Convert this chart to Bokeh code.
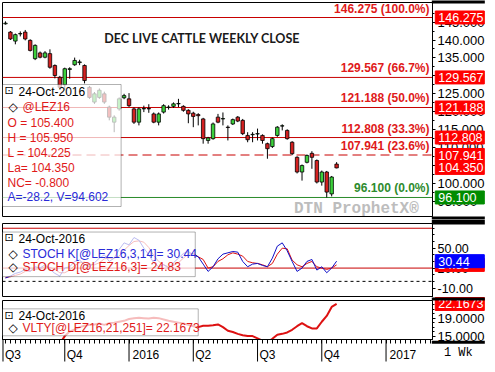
import numpy as np
from bokeh.plotting import figure
from bokeh.layouts import column
from bokeh.core.properties import value
from bokeh.models import (Range1d, FixedTicker, NumeralTickFormatter, Span, Label,
                          BoxAnnotation, ColumnDataSource)
from bokeh.embed import file_html
from bokeh.resources import INLINE

# ---------------- data ----------------
week_idx = list(range(68))
opens = [144.5, 142.2, 139.7, 141.7, 142.2, 139.9, 134.8, 136.4, 135.2, 136.2,
         132.9, 129.6, 127.5, 131.8, 133.1, 133.7, 132.9, 126.8, 122.7, 124.0,
         125.0, 121.3, 117.1, 120.8, 123.9, 123.6, 120.8, 117.1, 120.8, 120.9,
         119.4, 117.1, 119.9, 121.2, 121.5, 122.2, 121.5, 120.4, 119.6, 119.2,
         118.0, 112.0, 112.5, 118.5, 118.0, 115.7, 116.6, 118.5, 117.6, 113.4,
         113.6, 113.8, 113.4, 111.1, 110.3, 113.4, 116.0, 114.8, 111.5, 107.3,
         103.2, 105.9, 108.4, 106.4, 100.4, 103.2, 97.1, 105.4]
highs = [145.2, 142.5, 141.8, 142.4, 142.8, 140.2, 138.8, 136.8, 136.9, 137.4,
         133.2, 130.0, 132.3, 132.4, 135.1, 134.5, 133.2, 127.2, 125.5, 126.5,
         125.6, 121.7, 119.0, 124.0, 125.0, 125.2, 121.2, 121.2, 121.7, 122.1,
         119.8, 119.8, 122.1, 121.8, 122.6, 123.6, 121.8, 120.7, 120.0, 119.6,
         118.3, 113.0, 117.0, 119.4, 119.8, 116.2, 118.1, 118.8, 118.0, 114.3,
         114.3, 115.3, 113.7, 111.4, 112.8, 116.0, 116.5, 115.1, 111.8, 107.6,
         105.3, 108.1, 109.0, 106.7, 103.6, 103.5, 102.1, 105.95]
lows = [144.3, 140.0, 138.8, 141.0, 139.9, 136.8, 134.4, 134.9, 134.9, 132.0,
        129.3, 126.2, 126.0, 129.2, 132.8, 133.0, 127.9, 123.6, 122.2, 123.6,
        122.2, 117.6, 114.3, 120.3, 123.5, 121.3, 116.6, 116.2, 119.9, 119.7,
        116.8, 116.2, 119.5, 120.6, 121.1, 121.3, 120.0, 116.8, 115.7, 116.2,
        111.1, 111.1, 112.2, 116.8, 116.2, 112.0, 116.3, 117.1, 113.5, 111.5,
        111.5, 112.0, 111.1, 106.9, 109.9, 113.0, 114.8, 112.2, 107.9, 102.8,
        100.8, 105.6, 104.1, 100.0, 99.4, 96.1, 96.4, 104.225]
closes = [144.7, 140.3, 141.5, 141.8, 140.3, 137.1, 138.5, 135.2, 136.4, 132.4,
          130.1, 126.8, 132.0, 132.0, 134.3, 133.9, 128.7, 124.0, 125.0, 126.0,
          122.7, 118.5, 118.5, 123.6, 124.5, 121.7, 117.1, 120.8, 120.9, 120.8,
          117.1, 119.4, 121.7, 121.3, 122.2, 122.3, 120.4, 119.4, 118.7, 118.9,
          112.5, 112.7, 116.6, 117.1, 118.1, 115.6, 117.8, 117.4, 113.9, 112.2,
          113.7, 113.9, 112.0, 109.7, 112.5, 115.7, 116.1, 112.5, 108.3, 103.2,
          105.0, 107.8, 107.3, 100.4, 103.2, 97.6, 101.8, 104.35]
stoch_k = [5, 8, 12, 14, 18, 15, 22, 20, 25, 18, 12, 8, 20, 22, 30, 32, 25, 22, 28, 35,
           40, 30, 35, 48, 58, 55, 66, 62, 50, 40, 28, 22, 25, 20, 28, 35, 42, 45, 40, 37,
           26, 15, 22, 34, 41, 43, 45, 44, 30, 22, 26, 27, 24, 22, 35, 53, 58, 46, 30, 15,
           20, 30, 33, 17, 22, 13, 20, 30.44]
stoch_d = [6, 7, 9, 11, 15, 16, 18, 19, 22, 21, 18, 13, 13, 17, 24, 28, 29, 26, 25, 28,
           34, 35, 35, 38, 47, 54, 60, 61, 59, 51, 39, 30, 25, 22, 24, 28, 35, 41, 42, 37,
           33, 20, 22, 30, 34, 40, 43, 41, 38, 30, 28, 27, 25, 22, 27, 41, 50, 49, 32, 25,
           22, 27, 30, 22, 20, 18, 20, 24.83]
vlty = [np.nan] * 11 + [13.3, 15.0, 16.0, 16.5, 17.0, 17.3, 17.5, 17.6, 17.8, 17.5,
                        17.9, 18.0, 18.2, 18.4, 18.8, 19.0, 19.1, 19.0, 18.9, 19.1,
                        19.0, 18.7, 18.4, 18.2, 18.0, 17.8, 17.5, 17.2, 17.0, 17.3,
                        17.3, 17.4, 17.6, 17.0, 16.2, 15.9, 15.5, 15.2, 15.0, 15.0,
                        14.5, 14.0, 13.6, 14.4, 15.3, 15.5, 15.8, 16.4, 17.2, 17.9,
                        17.2, 16.7, 16.7, 18.2, 19.5, 21.5, 22.1673]

fib_levels = [146.275, 129.567, 121.188, 112.808, 107.941, 96.100]
fib_pcts = ["100.0%", "66.7%", "50.0%", "33.3%", "23.6%", "0.0%"]
last_price = 104.350
last_k = 30.44
last_d = 24.83
last_vlty = 22.1673
price_ticks = [95, 100, 105, 110, 115, 120, 125, 130, 135, 140, 145]
stoch_ticks = [-10, 20, 50]
vlty_ticks = [15, 19]
quarter_ticks = [-0.5, 12, 25, 38, 51, 64, 77]
quarter_labels = ["Q3", "Q4", "2016", "Q2", "Q3", "Q4", "2017"]
legend_date = "24-Oct-2016"
symbol = "@LEZ16"
ohlc_lines = ["O = 105.400", "H = 105.950", "L = 104.225", "La= 104.350", "NC= -0.800"]
av_line = "A=-28.2, V=94.602"
title_text = "DEC LIVE CATTLE WEEKLY CLOSE"
period_text = "1 Wk"

# ---------------- layout helpers (reference pixel -> data) ----------------
W = 487
BORDER_R = 52
X0, X1 = -0.6, 86.4
PXW = (W - 2 - BORDER_R) / (X1 - X0)      # screen px per week
BX_BOX = X1 + 27.5 / PXW                   # centre of value boxes
BX_COL = X1 + 26.0 / PXW                   # centre of right column
def gx(px): return (px - 5) / 5.0
def g1(py): return 146.275 - (py - 17) / 3.587
def g2(py): return (284 - py) / 0.7
def g3(py): return 19 - (py - 319) / 4.83

RED_LINE = "#c80000"
RED_TXT = "#e01a1a"
GREEN_TXT = "#2e8b2e"
FONT = "Liberation Sans"

xr = Range1d(X0, X1)

def make_fig(h, yr, top, bottom, xaxis, label_size="13px"):
    p = figure(width=W, height=h, x_range=xr, y_range=yr, toolbar_location=None,
               output_backend="svg", x_axis_location="below" if xaxis else None,
               y_axis_location="right", min_border_left=2, min_border_right=BORDER_R,
               min_border_top=top, min_border_bottom=bottom)
    p.grid.visible = False
    p.outline_line_color = "black"
    p.outline_line_width = 1
    p.background_fill_color = "white"
    p.border_fill_color = "white"
    ya = p.yaxis[0]
    ya.major_label_text_font = FONT
    ya.major_label_text_font_size = label_size
    ya.major_label_text_color = "black"
    ya.major_tick_in = 0
    ya.major_tick_out = 3
    ya.minor_tick_in = 0
    ya.minor_tick_out = 2
    ya.major_label_standoff = 2
    ya.axis_line_color = "black"
    return p

def ltext(p, text, px, y, color="black", font=FONT, size="12px", style="normal"):
    p.add_layout(Label(x=X0, y=y, x_offset=px - 2, text=text, text_color=color,
                       text_font=font, text_font_size=size, text_font_style=style,
                       text_baseline="middle", text_align="left"))

def value_box(p, v, text, color):
    p.rect(x=[BX_BOX], y=[v], width=49, height=13, width_units="screen",
           height_units="screen", fill_color=color, line_color=color, level="overlay")
    p.text(x=[BX_BOX], y=[v], text=[text], x_offset=-21.5, text_color="white",
           text_font=value(FONT), text_font_size=value("12.5px"),
           text_baseline="middle", text_align="left", level="overlay")

def col_bar(p, y, h):
    p.rect(x=[BX_COL], y=[y], width=53, height=h, width_units="screen",
           height_units="screen", fill_color="black", line_color=None, level="overlay")

# ---------------- main price panel ----------------
yr1 = Range1d(g1(216), g1(2))
p1 = make_fig(219, yr1, 2, 3, False)
p1.yaxis[0].ticker = FixedTicker(ticks=price_ticks,
                                 minor_ticks=[t + 2.5 for t in price_ticks])
p1.yaxis[0].formatter = NumeralTickFormatter(format="0.000")

for lvl, pct in zip(fib_levels, fib_pcts):
    col = "#2a8a2a" if pct == "0.0%" else RED_LINE
    dash = "9 5" if pct == "23.6%" else "solid"
    p1.add_layout(Span(location=lvl, dimension="width", line_color=col,
                       line_width=1, line_dash=dash, level="underlay"))

o = np.array(opens)
c = np.array(closes)
src = ColumnDataSource(dict(x=week_idx, high=highs, low=lows,
                            top=np.maximum(o, c), bottom=np.minimum(o, c),
                            color=["#3cd03c" if cc >= oo else "#d42020"
                                   for oo, cc in zip(opens, closes)]))
p1.segment(x0="x", y0="low", x1="x", y1="high", source=src, line_color="black", line_width=1)
p1.vbar(x="x", width=0.7, top="top", bottom="bottom", source=src,
        fill_color="color", line_color="black", line_width=0.8)

p1.add_layout(BoxAnnotation(left=X0, right=gx(122), top=g1(84), bottom=g1(206),
                            fill_color="white", fill_alpha=0.72,
                            line_color="black", line_width=1))
ltext(p1, "\u22a1", 4, g1(90), font="DejaVu Sans", size="11px")
ltext(p1, legend_date, 18, g1(91))
ltext(p1, "\u25c7", 8, g1(106), font="DejaVu Sans", size="12px")
ltext(p1, symbol, 22, g1(106), color=RED_TXT)
for i, t in enumerate(ohlc_lines):
    ltext(p1, t, 7, g1(122 + 15 * i), color=RED_TXT)
ltext(p1, av_line, 7, g1(196), color="#2a2ad8")

for lvl, pct in zip(fib_levels, fib_pcts):
    col = GREEN_TXT if pct == "0.0%" else RED_TXT
    p1.add_layout(Label(x=X1, y=lvl, x_offset=-3, y_offset=2, text=f"{lvl:.3f} ({pct})",
                        text_align="right", text_baseline="bottom", text_font=FONT,
                        text_font_style="bold", text_font_size="12px", text_color=col))

for lvl, pct in zip(fib_levels, fib_pcts):
    value_box(p1, lvl, f"{lvl:.3f}", "#008c00" if pct == "0.0%" else "#ff0000")
value_box(p1, last_price, f"{last_price:.3f}", "#ff0000")
col_bar(p1, g1(1.5), 3)
col_bar(p1, g1(217.5), 3)

p1.add_layout(Label(x=gx(204), y=g1(38), text=title_text, text_align="center",
                    text_baseline="middle", text_font="Lato", text_font_style="bold",
                    text_font_size="12.5px", text_color="#1a1a1a"))
p1.add_layout(Label(x=gx(360), y=g1(208), text="DTN ProphetX\u00ae", text_align="center",
                    text_baseline="middle", text_font="Liberation Mono",
                    text_font_style="bold", text_font_size="16px", text_color="#bdbdbd"))

# ---------------- stochastic panel ----------------
yr2 = Range1d(g2(301), g2(223))
p2 = make_fig(78, yr2, 4, 0, False, label_size="12.5px")
p2.yaxis[0].ticker = FixedTicker(ticks=stoch_ticks, minor_ticks=list(range(-10, 81, 10)))
p2.yaxis[0].formatter = NumeralTickFormatter(format="0.00")
for lv in (80, 20):
    p2.add_layout(Span(location=lv, dimension="width", line_color=RED_LINE,
                       line_width=1, level="underlay"))
p2.add_layout(Span(location=0, dimension="width", line_color="black",
                   line_width=1, line_dash="3 3", level="underlay"))
p2.line(week_idx, stoch_d, line_color="#dd1111", line_width=1)
p2.line(week_idx, stoch_k, line_color="#1010c8", line_width=1)
p2.add_layout(BoxAnnotation(left=X0, right=gx(197), top=g2(232), bottom=g2(279),
                            fill_color="white", fill_alpha=0.72,
                            line_color="black", line_width=1))
ltext(p2, "\u22a1", 4, g2(238), font="DejaVu Sans", size="11px")
ltext(p2, legend_date, 18, g2(239))
ltext(p2, "\u25c7", 8, g2(255), font="DejaVu Sans", size="12px")
ltext(p2, f"STOCH K[{symbol},3,14]= {last_k:.2f}", 22, g2(255), color="#2a2ad8")
ltext(p2, "\u25c7", 8, g2(269), font="DejaVu Sans", size="12px")
ltext(p2, f"STOCH D[{symbol},3]= {last_d:.2f}", 22, g2(269), color=RED_TXT)
value_box(p2, last_d, f"{last_d:.2f}", "#ff0000")
value_box(p2, last_k, f"{last_k:.2f}", "#0000ff")
col_bar(p2, g2(221.5), 5)

# ---------------- volatility panel ----------------
yr3 = Range1d(g3(342), g3(300))
p3 = make_fig(67, yr3, 3, 0, True)
p3.yaxis[0].ticker = FixedTicker(ticks=vlty_ticks, minor_ticks=list(range(14, 23)))
p3.yaxis[0].formatter = NumeralTickFormatter(format="0.0000")
p3.line(week_idx, np.array(vlty, dtype=float), line_color="#dd1111", line_width=2)
p3.add_layout(BoxAnnotation(left=X0, right=gx(200), top=g3(309), bottom=g3(338),
                            fill_color="white", fill_alpha=0.72,
                            line_color="black", line_width=1))
ltext(p3, "\u22a1", 4, g3(316), font="DejaVu Sans", size="11px")
ltext(p3, legend_date, 18, g3(317))
ltext(p3, "\u25c7", 8, g3(330), font="DejaVu Sans", size="12px")
ltext(p3, f"VLTY[{symbol},21,251]= {last_vlty:.4f}", 22, g3(330), color=RED_TXT)
value_box(p3, last_vlty, f"{last_vlty:.4f}", "#ff0000")
col_bar(p3, g3(298.5), 3)
col_bar(p3, g3(345), 3)

# x axis: labels sit just right of each quarter boundary
label_centers = [round(t + 0.6 + (7.0 * len(s) / 2) / PXW, 2)
                 for t, s in zip(quarter_ticks, quarter_labels)]
xa = p3.xaxis[0]
xa.ticker = FixedTicker(ticks=label_centers, minor_ticks=list(range(0, 87)))
xa.major_label_overrides = {lc: s for lc, s in zip(label_centers, quarter_labels)}
xa.major_tick_out = 0
xa.major_tick_in = 0
xa.minor_tick_out = 4
xa.minor_tick_in = 0
xa.major_label_standoff = 4
xa.axis_label_standoff = 0
xa.major_label_text_font = FONT
xa.major_label_text_font_size = "12px"
xa.major_label_text_color = "black"
xa.axis_line_color = "black"

# quarter dividers through the axis strip
p3.ray(x=quarter_ticks, y=[yr3.start] * len(quarter_ticks), length=22,
       length_units="screen", angle=-np.pi / 2, line_color="black", line_width=1,
       level="overlay")

p3.text(x=[BX_COL], y=[yr3.start], text=[period_text], y_offset=13, text_align="center",
        text_baseline="middle", text_font=value("Liberation Mono"),
        text_font_size=value("12px"), text_color="black", level="overlay")

layout = column(p1, p2, p3, spacing=0)
open("out.html", "w").write(file_html(layout, INLINE))
